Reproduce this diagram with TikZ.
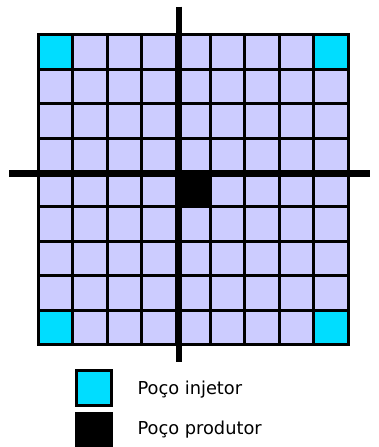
\documentclass[tikz,border=0pt]{standalone}
\usepackage{fontspec}
\setmainfont{DejaVu Sans}
\definecolor{cellc}{RGB}{204,204,255}
\definecolor{injc}{RGB}{0,221,255}
\begin{document}
\begin{tikzpicture}[x=1pt,y=-1pt,
  cellbox/.style={draw=black,line width=3pt,fill=cellc},
  injbox/.style={draw=black,line width=3pt,fill=injc},
  prodbox/.style={draw=black,line width=3pt,fill=black},
  axisline/.style={line width=6.5pt,black},
  legtext/.style={anchor=base west,font=\fontsize{17.8}{21}\selectfont,inner sep=0pt}]
\useasboundingbox (0,0) rectangle (379,447);
\def\xo{38.5}\def\yo{34.8}\def\cs{34.4}
\foreach \i in {0,...,8}{
  \foreach \j in {0,...,8}{
    \pgfmathsetmacro\xa{\xo+\i*\cs}
    \pgfmathsetmacro\ya{\yo+\j*\cs}
    \draw[cellbox] (\xa,\ya) rectangle ++(\cs,\cs);
  }
}
\draw[injbox] (\xo,\yo) rectangle ++(\cs,\cs);
\draw[injbox] (\xo+8*\cs,\yo) rectangle ++(\cs,\cs);
\draw[injbox] (\xo,\yo+8*\cs) rectangle ++(\cs,\cs);
\draw[injbox] (\xo+8*\cs,\yo+8*\cs) rectangle ++(\cs,\cs);
\draw[prodbox] (\xo+4*\cs,\yo+4*\cs) rectangle ++(\cs,\cs);
\coordinate (vt) at (178.8,6.7);
\coordinate (vb) at (178.8,362);
\coordinate (hl) at (9.3,173.7);
\coordinate (hr) at (370,173.7);
\draw[axisline] (vt) -- (vb);
\draw[axisline] (hl) -- (hr);
\node[draw=black,line width=3pt,fill=injc,minimum width=35pt,minimum height=35pt,inner sep=0pt] (li) at (94,388) {};
\node[draw=black,line width=3pt,fill=black,minimum width=35pt,minimum height=32pt,inner sep=0pt] (lp) at (94,429.5) {};
\node[legtext] (ti) at (137.3,394.3) {Poço injetor};
\node[legtext] (tp) at (137.3,434.3) {Poço produtor};
\end{tikzpicture}
\end{document}
